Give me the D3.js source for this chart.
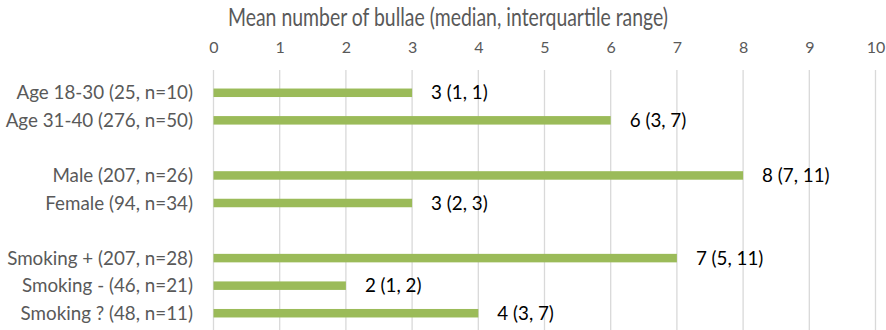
<!DOCTYPE html>
<html><head><meta charset="utf-8">
<script src="https://cdn.jsdelivr.net/npm/d3@7"></script>
<style>body{margin:0;background:#fff}svg{display:block}</style>
</head><body><svg id="c" width="886" height="330"></svg>
<script>
const slots = ["Age 18-30 (25, n=10)","Age 31-40 (276, n=50)","gap1","Male (207, n=26)","Female (94, n=34)","gap2","Smoking + (207, n=28)","Smoking - (46, n=21)","Smoking ? (48, n=11)"];
const categories = ["Age 18-30 (25, n=10)","Age 31-40 (276, n=50)","Male (207, n=26)","Female (94, n=34)","Smoking + (207, n=28)","Smoking - (46, n=21)","Smoking ? (48, n=11)"];
const means = [3,6,8,3,7,2,4];
const labels = ["3 (1, 1)","6 (3, 7)","8 (7, 11)","3 (2, 3)","7 (5, 11)","2 (1, 2)","4 (3, 7)"];
const ticks = [0,1,2,3,4,5,6,7,8,9,10];
const title = "Mean number of bullae (median, interquartile range)";

const svg = d3.select("#c");
const font = "Lato, 'Open Sans', sans-serif";
const x = d3.scaleLinear().domain([0,10]).range([213.5,875.5]);
const y = d3.scaleBand().domain(slots).range([79,327]).paddingInner(0).paddingOuter(0);

svg.append("text").attr("x",448).attr("y",26).attr("text-anchor","middle")
  .attr("font-family",font).attr("font-size",25).attr("font-weight",400).attr("fill","#595959")
  .attr("textLength",440).attr("lengthAdjust","spacingAndGlyphs").text(title);

const ax = svg.append("g").attr("transform","translate(0,70)")
  .call(d3.axisTop(x).tickValues(ticks).tickSize(0).tickPadding(17).tickFormat(d3.format("d")));
ax.select(".domain").remove();
ax.selectAll("text").attr("font-family",font).attr("font-size",16).attr("fill","#595959");

svg.append("g").selectAll("line").data(ticks).join("line")
  .attr("x1",d=>x(d)).attr("x2",d=>x(d)).attr("y1",70).attr("y2",330)
  .attr("stroke","#d9d9d9").attr("stroke-width",1.3);

const data = categories.map((c,i)=>({c,v:means[i],l:labels[i]}));
const bh = 8.5;
svg.append("g").selectAll("rect").data(data).join("rect")
  .attr("x",x(0)).attr("width",d=>x(d.v)-x(0))
  .attr("y",d=>y(d.c)+y.bandwidth()/2-bh/2).attr("height",bh)
  .attr("fill","#9bbb59");

svg.append("g").selectAll("text").data(data).join("text")
  .attr("x",193).attr("y",d=>y(d.c)+y.bandwidth()/2).attr("dy","0.35em")
  .attr("text-anchor","end").attr("font-family",font).attr("font-size",18.8).attr("fill","#595959")
  .text(d=>d.c);

svg.append("g").selectAll("text").data(data).join("text")
  .attr("x",d=>x(d.v)+19).attr("y",d=>y(d.c)+y.bandwidth()/2).attr("dy","0.35em")
  .attr("font-family",font).attr("font-size",18.8).attr("fill","#000")
  .text(d=>d.l);
</script></body></html>
